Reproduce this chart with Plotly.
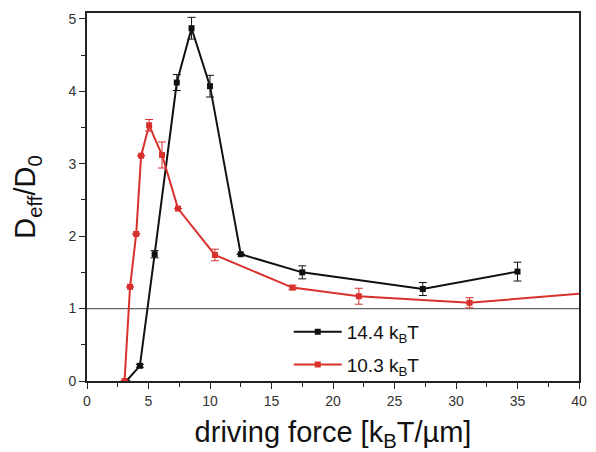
import plotly.graph_objects as go

# Effective diffusion D_eff/D_0 versus driving force, two barrier heights
force_144 = [3.2, 4.3, 5.5, 7.3, 8.5, 10.0, 12.5, 17.5, 27.3, 35.0]
deff_144 = [0.0, 0.21, 1.75, 4.12, 4.87, 4.07, 1.75, 1.50, 1.27, 1.51]
err_144 = [0.0, 0.02, 0.05, 0.11, 0.15, 0.15, 0.0, 0.09, 0.09, 0.13]

force_103 = [3.05, 3.5, 4.0, 4.4, 5.05, 6.1, 7.4, 10.4, 16.7, 22.1, 31.1, 41.0]
deff_103 = [0.0, 1.30, 2.03, 3.11, 3.53, 3.12, 2.38, 1.74, 1.29, 1.17, 1.08, 1.22]
err_103 = [0.0, 0.0, 0.0, 0.0, 0.08, 0.18, 0.0, 0.08, 0.03, 0.11, 0.07, 0.0]

labels = ["14.4 k<sub>B</sub>T", "10.3 k<sub>B</sub>T"]
x_ticks = [0, 5, 10, 15, 20, 25, 30, 35, 40]
y_ticks = [0, 1, 2, 3, 4, 5]

BLACK = "#111111"
RED = "#d8312c"
FONT = "Liberation Sans, Arial, sans-serif"

fig = go.Figure()
fig.add_trace(go.Scatter(
    x=force_144, y=deff_144, mode="lines+markers", name=labels[0],
    legendgroup="a",
    line=dict(color=BLACK, width=2),
    marker=dict(symbol="square", size=6, color=BLACK),
    error_y=dict(type="data", array=err_144, color=BLACK, thickness=1, width=4),
))
fig.add_trace(go.Scatter(
    x=force_103, y=deff_103, mode="lines+markers", name=labels[1],
    legendgroup="b",
    line=dict(color=RED, width=2),
    marker=dict(symbol="square", size=6, color=RED),
    error_y=dict(type="data", array=err_103, color=RED, thickness=1, width=4),
))

# reference level D_eff = D_0
fig.add_hline(y=1, line=dict(color="#666666", width=1.3), layer="below")

axis_common = dict(
    showline=True, linecolor="#222222", linewidth=1.6, mirror=True,
    ticks="outside", ticklen=6, tickwidth=1.2, tickcolor="#222222",
    showgrid=False, zeroline=False,
    tickfont=dict(family=FONT, size=14, color="#333333"),
)

fig.update_xaxes(
    range=[0, 40], tickvals=x_ticks,
    minor=dict(ticks="outside", ticklen=4, tickcolor="#222222", dtick=2.5, tick0=0),
    title=dict(text="driving force [k<sub>B</sub>T/µm]",
               font=dict(family=FONT, size=29, color="#111111"),
               standoff=14),
    **axis_common,
)
fig.update_yaxes(
    range=[0, 5.08], tickvals=y_ticks,
    minor=dict(ticks="outside", ticklen=4, tickcolor="#222222", dtick=0.5, tick0=0),
    title=dict(text="D<sub>eff</sub>/D<sub>0</sub>",
               font=dict(family=FONT, size=29, color="#111111"),
               standoff=24),
    **axis_common,
)

fig.update_layout(
    width=596, height=452,
    margin=dict(l=87, r=9, t=13, b=69),
    paper_bgcolor="white", plot_bgcolor="white",
    legend=dict(
        x=0.41, y=0.185, xanchor="left", yanchor="top",
        bgcolor="rgba(0,0,0,0)", borderwidth=0,
        font=dict(family=FONT, size=19, color="#111111"),
        itemwidth=48, tracegroupgap=5,
    ),
)

fig.write_html("out.html")
